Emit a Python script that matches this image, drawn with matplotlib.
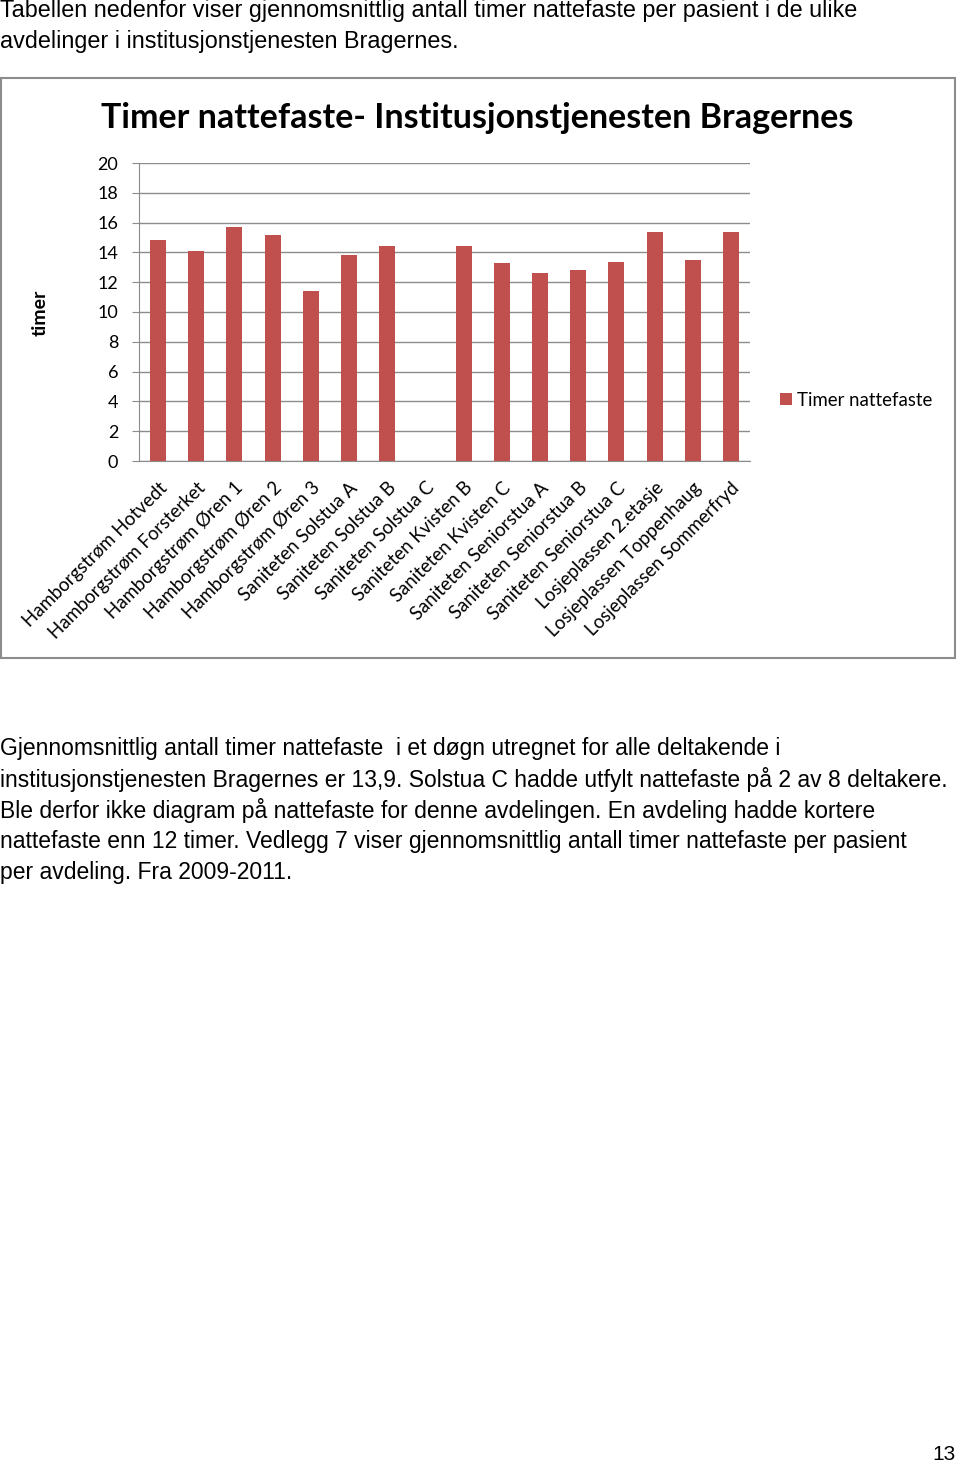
import matplotlib
matplotlib.use("Agg")
import matplotlib.pyplot as plt
from matplotlib.patches import Rectangle

categories = [
    "Hamborgstrøm Hotvedt", "Hamborgstrøm Forsterket", "Hamborgstrøm Øren 1",
    "Hamborgstrøm Øren 2", "Hamborgstrøm Øren 3", "Saniteten Solstua A",
    "Saniteten Solstua B", "Saniteten Solstua C", "Saniteten Kvisten B",
    "Saniteten Kvisten C", "Saniteten Seniorstua A", "Saniteten Seniorstua B",
    "Saniteten Seniorstua C", "Losjeplassen 2.etasje", "Losjeplassen Toppenhaug",
    "Losjeplassen Sommerfryd",
]
values = [14.85, 14.1, 15.7, 15.2, 11.4, 13.85, 14.4, 0.0, 14.4,
          13.3, 12.6, 12.8, 13.35, 15.35, 13.5, 15.35]
yticks = [0, 2, 4, 6, 8, 10, 12, 14, 16, 18, 20]

series_name = "Timer nattefaste"
chart_title = "Timer nattefaste- Institusjonstjenesten Bragernes"
y_label = "timer"
intro_lines = [
    "Tabellen nedenfor viser gjennomsnittlig antall timer nattefaste per pasient i de ulike",
    "avdelinger i institusjonstjenesten Bragernes.",
]
body_lines = [
    "Gjennomsnittlig antall timer nattefaste  i et døgn utregnet for alle deltakende i",
    "institusjonstjenesten Bragernes er 13,9. Solstua C hadde utfylt nattefaste på 2 av 8 deltakere.",
    "Ble derfor ikke diagram på nattefaste for denne avdelingen. En avdeling hadde kortere",
    "nattefaste enn 12 timer. Vedlegg 7 viser gjennomsnittlig antall timer nattefaste per pasient",
    "per avdeling. Fra 2009-2011.",
]
page_number = "13"

W, H = 960, 1466
fig = plt.figure(figsize=(W / 100, H / 100), dpi=100)
fig.patch.set_facecolor("white")

def fx(px):
    return px / W

def fy(py):
    return 1 - py / H

body_font = ["Liberation Sans", "DejaVu Sans"]
chart_font = ["Lato", "DejaVu Sans"]

# page text
for i, line in enumerate(intro_lines):
    fig.text(fx(0), fy(11 + 30.5 * i), line, fontsize=16.85, family=body_font,
             va="center", ha="left", color="black")
for i, line in enumerate(body_lines):
    fig.text(fx(0), fy(749 + 30.8 * i), line, fontsize=16.5, family=body_font,
             va="center", ha="left", color="black")
fig.text(fx(956), fy(1455), page_number, fontsize=15, family=body_font,
         va="center", ha="right", color="black")

# chart frame
fig.patches.append(Rectangle((fx(1), fy(658)), fx(955) - fx(1), fy(78) - fy(658),
                             transform=fig.transFigure, fill=False,
                             edgecolor="#8c8c8c", linewidth=1.5))

fig.text(fx(477), fy(118), chart_title, fontsize=24.5, fontweight="bold",
         family=chart_font, ha="center", va="center", color="black")
fig.text(fx(40), fy(313), y_label, fontsize=14, fontweight="bold",
         family=chart_font, rotation=90, ha="center", va="center")

ax = fig.add_axes([fx(139), fy(461), fx(750) - fx(139), fy(163) - fy(461)])
x = list(range(len(categories)))
bars = ax.bar(x, values, width=0.42, color="#c0504d", label=series_name, zorder=3)
ax.set_xlim(-0.5, len(categories) - 0.5)
ax.set_ylim(0, 20)
ax.set_yticks(yticks)
ax.set_yticklabels([str(v) for v in yticks], family=chart_font, fontsize=13)
ax.yaxis.grid(True, color="#8c8c8c", linewidth=1, zorder=0)
ax.set_xticks(x)
ax.set_xticklabels(categories, rotation=45, ha="right", rotation_mode="anchor",
                   family=chart_font, fontsize=13.4)
for s in ["top", "right"]:
    ax.spines[s].set_visible(False)
for s in ["left", "bottom"]:
    ax.spines[s].set_color("#8c8c8c")
ax.tick_params(axis="y", length=5, color="#8c8c8c", pad=10)
ax.tick_params(axis="x", length=0, pad=13)

leg = fig.legend(handles=[bars], labels=[series_name], loc="center left",
                 bbox_to_anchor=(fx(763), fy(400)), frameon=False,
                 prop={"family": chart_font, "size": 13.4},
                 handlelength=0.65, handleheight=0.65, handletextpad=0.3)

fig.savefig("out.png", dpi=100)
